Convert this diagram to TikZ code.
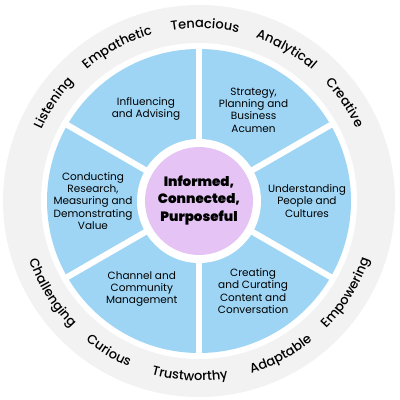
\documentclass[tikz,border=0pt]{standalone}
\usepackage{fontspec}
\setmainfont{Poppins}
\newfontfamily\ringfam{Poppins Medium}
\newfontfamily\corefam{Poppins Black}
\usetikzlibrary{decorations.text}
\definecolor{RingGray}{RGB}{242,242,242}
\definecolor{SkyBlue}{RGB}{158,213,245}
\definecolor{Lilac}{RGB}{229,195,245}
\newcommand\ringfont{\ringfam\fontsize{13}{15}\selectfont}

\begin{document}
\begin{tikzpicture}[
  sector/.style={align=center, font=\fontsize{10.5}{12.3}\selectfont},
  core/.style={align=center, font=\corefam\fontsize{13.5}{17.5}\selectfont},
  ringword/.style={decorate, decoration={text along path, text align=center,
                   text={|\ringfont|#1}}},
  gap/.style={white, line width=6pt},
]
\useasboundingbox (-199pt,-199pt) rectangle (201pt,201pt);

% Rings
\fill[RingGray] (0,0) circle[radius=196pt];
\fill[white] (0,0) circle[radius=158pt];
\fill[SkyBlue] (0,0) circle[radius=152pt];
\foreach \a in {30,90,...,330}
  \draw[gap] (0,0) -- (\a:155pt);
\fill[white] (0,0) circle[radius=62pt];
\fill[Lilac] (0,0) circle[radius=54pt];

% Centre
\node[core] (core) at (0,1pt) {Informed,\\Connected,\\Purposeful};

% Sectors
\node[sector] (influence) at (120:106pt) {Influencing\\and Advising};
\node[sector] (strategy) at (59:106pt) {Strategy,\\Planning and\\Business\\Acumen};
\node[sector] (people) at (0:108pt) {Understanding\\People and\\Cultures};
\node[sector] (content) at (301:105pt) {Creating\\and Curating\\Content and\\Conversation};
\node[sector] (channel) at (237:105pt) {Channel and\\Community\\Management};
\node[sector] (research) at (180:106pt) {Conducting\\Research,\\Measuring and\\Demonstrating\\Value};

% Ring words, top
\foreach \word/\a in {Listening/146, Empathetic/118, Tenacious/88,
                      Analytical/60, Creative/34}
  \path[ringword/.expanded=\word]
    (\a+25:173pt) arc[start angle=\a+25, end angle=\a-25, radius=173pt];

% Ring words, bottom
\foreach \word/\a in {Challenging/212, Curious/239, Trustworthy/267,
                      Adaptable/298, Empowering/328}
  \path[ringword/.expanded=\word]
    (\a-25:180pt) arc[start angle=\a-25, end angle=\a+25, radius=180pt];

\end{tikzpicture}
\end{document}
